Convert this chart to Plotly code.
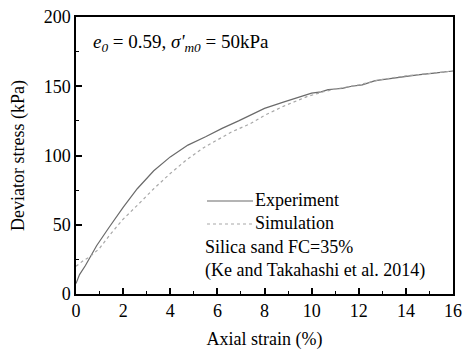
import plotly.graph_objects as go

# Axial strain (%) and deviator stress (kPa)
exp_strain = [0.0, 0.15, 0.4, 0.88, 1.4, 2.0, 2.6, 3.3, 4.0, 4.75, 5.5, 6.2, 6.9, 7.4, 8.0, 8.8, 9.5, 10.0, 10.4, 10.7, 11.0, 11.3, 11.7, 12.15, 12.7, 13.3, 13.9, 14.5, 15.2, 16.0]
exp_stress = [7.5, 14.0, 20.6, 35.0, 48.0, 62.5, 76.0, 89.0, 99.0, 107.5, 113.5, 119.6, 125.0, 129.0, 134.0, 138.5, 142.5, 145.0, 146.0, 147.5, 148.0, 148.5, 150.0, 151.0, 154.0, 155.5, 157.0, 158.2, 159.5, 161.0]

sim_strain = [0.0, 0.3, 0.6, 1.0, 1.5, 2.0, 2.6, 3.3, 4.0, 4.7, 5.45, 6.0, 6.6, 7.4, 8.0, 8.8, 9.8, 10.5, 11.0, 12.0, 13.0, 14.0, 15.0, 16.0]
sim_stress = [20.0, 24.0, 27.0, 33.0, 44.0, 54.0, 64.0, 76.0, 87.0, 97.0, 106.0, 111.5, 117.0, 123.0, 129.0, 135.5, 142.5, 146.0, 148.0, 151.0, 155.0, 157.5, 159.5, 161.0]

series_names = ["Experiment", "Simulation"]
series_colors = ["#6a6a6a", "#a8a8a8"]
series_dash = ["solid", "dot"]
note_lines = ["Silica sand FC=35%", "(Ke and Takahashi et al. 2014)"]

FONT = "Liberation Serif"
L, R, T, B = 76, 10, 17, 57
W, H = 463, 351
PW, PH = W - L - R, H - T - B


def px(xp):
    return (xp - L) / PW


def py(yp):
    return (H - B - yp) / PH


fig = go.Figure()
for xs, ys, name, color, dash in zip(
    [exp_strain, sim_strain], [exp_stress, sim_stress],
    series_names, series_colors, series_dash,
):
    fig.add_trace(go.Scatter(
        x=xs, y=ys, mode="lines", name=name,
        line=dict(color=color, width=1.2, dash=dash),
    ))

axis_common = dict(
    showline=True, linecolor="black", linewidth=1.5, mirror=True,
    ticks="inside", ticklen=6, tickwidth=1.5, tickcolor="black",
    showgrid=False, zeroline=False, automargin=False,
    tickfont=dict(family=FONT, size=18, color="black"),
)

fig.update_xaxes(
    range=[0, 16], dtick=2, tick0=0,
    title=dict(text="Axial strain (%)", font=dict(family=FONT, size=18, color="black"), standoff=12),
    minor=dict(dtick=1, ticks="inside", ticklen=3, tickwidth=1.2, tickcolor="black"),
    **axis_common,
)
fig.update_yaxes(
    range=[0, 200], dtick=50, tick0=0,
    title=dict(text="Deviator stress (kPa)", font=dict(family=FONT, size=18, color="black"), standoff=14),
    minor=dict(dtick=25, ticks="inside", ticklen=3, tickwidth=1.2, tickcolor="black"),
    **axis_common,
)

# Test condition label
fig.add_annotation(
    x=px(91), y=py(43), xref="paper", yref="paper", xanchor="left", yanchor="middle",
    text="<i>e</i><sub><i>0</i></sub> = 0.59, <i>σ'</i><sub><i>m0</i></sub> = 50kPa",
    showarrow=False, font=dict(family=FONT, size=19, color="black"),
)

# Hand-built legend: key line plus label for each series
legend_rows = [200, 223]
for row, name, color, dash in zip(legend_rows, series_names, series_colors, series_dash):
    fig.add_shape(
        type="line", xref="paper", yref="paper",
        x0=px(207), x1=px(253), y0=py(row + 1), y1=py(row + 1),
        line=dict(color=color, width=1.2, dash=dash),
    )
    fig.add_annotation(
        x=px(253), y=py(row), xref="paper", yref="paper",
        xanchor="left", yanchor="middle", showarrow=False,
        text=name, font=dict(family=FONT, size=18, color="black"),
    )

for row, line in zip([247, 270], note_lines):
    fig.add_annotation(
        x=px(203), y=py(row), xref="paper", yref="paper",
        xanchor="left", yanchor="middle", showarrow=False,
        text=line, font=dict(family=FONT, size=18, color="black"),
    )

fig.update_layout(
    width=W, height=H,
    margin=dict(l=L, r=R, t=T, b=B, autoexpand=False),
    paper_bgcolor="white", plot_bgcolor="white",
    showlegend=False,
)

fig.write_html("out.html")
